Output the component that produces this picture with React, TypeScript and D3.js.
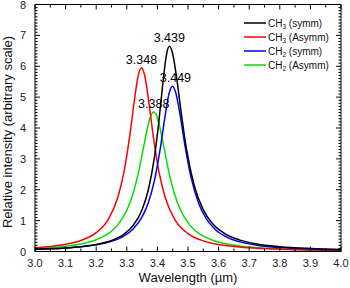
import { useEffect, useRef } from 'react';
import * as d3 from 'd3';

// Wavelength (µm) / relative intensity pairs
const ch3SymmX = [3.0, 3.05, 3.1, 3.15, 3.2, 3.25, 3.29, 3.32, 3.35, 3.37, 3.39, 3.405, 3.418, 3.429, 3.439, 3.449, 3.462, 3.477, 3.495, 3.52, 3.55, 3.58, 3.62, 3.67, 3.72, 3.8, 3.9, 4.0];
const ch3SymmY = [0.069, 0.088, 0.115, 0.157, 0.228, 0.357, 0.556, 0.832, 1.354, 1.984, 3.042, 4.233, 5.46, 6.337, 6.65, 6.444, 5.689, 4.552, 3.325, 2.151, 1.349, 0.906, 0.581, 0.369, 0.254, 0.156, 0.097, 0.066];

const ch3AsymmX = [3.0, 3.05, 3.1, 3.15, 3.2, 3.24, 3.27, 3.29, 3.31, 3.325, 3.337, 3.348, 3.359, 3.371, 3.386, 3.406, 3.426, 3.456, 3.5, 3.55, 3.6, 3.7, 3.8, 3.9, 4.0];
const ch3AsymmY = [0.12, 0.163, 0.232, 0.357, 0.61, 1.05, 1.734, 2.536, 3.771, 4.911, 5.675, 5.95, 5.675, 4.911, 3.771, 2.536, 1.734, 1.05, 0.581, 0.344, 0.225, 0.118, 0.072, 0.048, 0.035];

const ch2SymmX = [3.0, 3.05, 3.1, 3.15, 3.2, 3.25, 3.29, 3.32, 3.35, 3.37, 3.39, 3.41, 3.425, 3.438, 3.449, 3.46, 3.474, 3.49, 3.51, 3.535, 3.56, 3.59, 3.63, 3.68, 3.73, 3.8, 3.9, 4.0];
const ch2SymmY = [0.068, 0.086, 0.112, 0.151, 0.215, 0.33, 0.499, 0.723, 1.122, 1.574, 2.287, 3.375, 4.378, 5.112, 5.35, 5.144, 4.434, 3.44, 2.399, 1.553, 1.055, 0.707, 0.452, 0.287, 0.197, 0.128, 0.078, 0.053];

const ch2AsymmX = [3.0, 3.05, 3.1, 3.15, 3.2, 3.24, 3.27, 3.3, 3.32, 3.34, 3.355, 3.368, 3.378, 3.388, 3.398, 3.408, 3.421, 3.436, 3.456, 3.476, 3.506, 3.536, 3.576, 3.626, 3.676, 3.75, 3.85, 4.0];
const ch2AsymmY = [0.096, 0.125, 0.17, 0.245, 0.38, 0.584, 0.855, 1.336, 1.865, 2.645, 3.386, 4.025, 4.385, 4.52, 4.385, 4.025, 3.386, 2.645, 1.865, 1.336, 0.855, 0.584, 0.38, 0.245, 0.17, 0.109, 0.068, 0.039];

const seriesNames = ['CH|3| (symm)', 'CH|3| (Asymm)', 'CH|2| (symm)', 'CH|2| (Asymm)'];
const seriesColors = ['#000000', '#ff0000', '#0000ff', '#00e000'];

const peakLabels = ['3.439', '3.348', '3.449', '3.388'];
const peakX = [3.439, 3.348, 3.449, 3.388];
const peakY = [6.65, 5.95, 5.35, 4.52];

const xTicks = [3.0, 3.1, 3.2, 3.3, 3.4, 3.5, 3.6, 3.7, 3.8, 3.9, 4.0];
const yTicks = [0, 1, 2, 3, 4, 5, 6, 7, 8];

const W = 350;
const H = 288;
const M = { left: 35, right: 9, top: 4.5, bottom: 36.5 };
const FONT = 'Liberation Sans, Arial, sans-serif';

export default function App() {
  const ref = useRef<SVGSVGElement>(null);

  useEffect(() => {
    if (!ref.current) return;
    const svg = d3.select(ref.current);
    svg.selectAll('*').remove();

    const x = d3.scaleLinear().domain([3.0, 4.0]).range([M.left, W - M.right]);
    const y = d3.scaleLinear().domain([0, 8]).range([H - M.bottom, M.top]);

    const seriesX = [ch3SymmX, ch3AsymmX, ch2SymmX, ch2AsymmX];
    const seriesY = [ch3SymmY, ch3AsymmY, ch2SymmY, ch2AsymmY];

    // clip
    svg.append('defs').append('clipPath').attr('id', 'plot-clip')
      .append('rect')
      .attr('x', M.left).attr('y', M.top)
      .attr('width', W - M.left - M.right).attr('height', H - M.top - M.bottom);

    const line = d3.line<[number, number]>()
      .x(d => x(d[0]))
      .y(d => y(d[1]))
      .curve(d3.curveMonotoneX);

    // draw order: green, blue, red, black on top? follow reference look
    const order = [3, 1, 2, 0];
    order.forEach(i => {
      const pts = seriesX[i].map((v, j) => [v, seriesY[i][j]] as [number, number]);
      svg.append('path')
        .attr('d', line(pts) as string)
        .attr('fill', 'none')
        .attr('stroke', seriesColors[i])
        .attr('stroke-width', 1.5)
        .attr('clip-path', 'url(#plot-clip)');
    });

    // frame
    svg.append('rect')
      .attr('x', M.left).attr('y', M.top)
      .attr('width', W - M.left - M.right).attr('height', H - M.top - M.bottom)
      .attr('fill', 'none').attr('stroke', '#000').attr('stroke-width', 1);

    const tickG = svg.append('g').attr('stroke', '#000').attr('stroke-width', 1);
    const x0 = M.left;
    const x1 = W - M.right;
    const y0 = H - M.bottom;
    const y1 = M.top;

    // x ticks (every 0.05, major at 0.1) bottom & top, inward
    d3.range(0, 21).forEach(k => {
      const v = 3.0 + k * 0.05;
      const px = x(v);
      const len = k % 2 === 0 ? 5 : 3;
      tickG.append('line').attr('x1', px).attr('x2', px).attr('y1', y0).attr('y2', y0 - len);
      tickG.append('line').attr('x1', px).attr('x2', px).attr('y1', y1).attr('y2', y1 + len);
    });

    // y ticks (every 0.1, major at integers) left & right, inward
    d3.range(0, 81).forEach(k => {
      const py = y(k / 10);
      const len = k % 10 === 0 ? 5 : 2.5;
      tickG.append('line').attr('x1', x0).attr('x2', x0 + len).attr('y1', py).attr('y2', py);
      tickG.append('line').attr('x1', x1).attr('x2', x1 - len).attr('y1', py).attr('y2', py);
    });

    // tick labels
    xTicks.forEach(v => {
      svg.append('text')
        .attr('x', x(v)).attr('y', y0 + 15)
        .attr('text-anchor', 'middle')
        .attr('font-family', FONT).attr('font-size', 11).attr('fill', '#222')
        .text(v.toFixed(1));
    });
    yTicks.forEach(v => {
      svg.append('text')
        .attr('x', x0 - 9).attr('y', y(v) + 4)
        .attr('text-anchor', 'end')
        .attr('font-family', FONT).attr('font-size', 11).attr('fill', '#222')
        .text(String(v));
    });

    // axis titles
    svg.append('text')
      .attr('x', (x0 + x1) / 2).attr('y', H - 6)
      .attr('text-anchor', 'middle')
      .attr('font-family', FONT).attr('font-size', 13).attr('fill', '#111')
      .text('Wavelength (µm)');
    svg.append('text')
      .attr('transform', `translate(12,${(y0 + y1) / 2 + 4}) rotate(-90)`)
      .attr('text-anchor', 'middle')
      .attr('font-family', FONT).attr('font-size', 13).attr('fill', '#111')
      .text('Relative intensity (arbitrary scale)');

    // peak labels
    const labelDy = [-4, -4, -4, -4];
    peakLabels.forEach((t, i) => {
      const shift = i === 2 ? 3 : 0;
      svg.append('text')
        .attr('x', x(peakX[i]) + shift)
        .attr('y', y(peakY[i]) + labelDy[i])
        .attr('text-anchor', 'middle')
        .attr('font-family', FONT).attr('font-size', 12.5).attr('fill', '#000')
        .text(t);
    });

    // legend
    const lg = svg.append('g').attr('transform', 'translate(244,23)');
    seriesNames.forEach((name, i) => {
      const row = lg.append('g').attr('transform', `translate(0,${i * 14})`);
      row.append('line')
        .attr('x1', 0).attr('x2', 22).attr('y1', 0).attr('y2', 0)
        .attr('stroke', seriesColors[i]).attr('stroke-width', 1.5);
      const parts = name.split('|');
      const txt = row.append('text')
        .attr('x', 24).attr('y', 3.5)
        .attr('font-family', FONT).attr('font-size', 10).attr('fill', '#111');
      txt.append('tspan').text(parts[0]);
      txt.append('tspan').attr('font-size', 6.5).attr('dy', 2.5).text(parts[1]);
      txt.append('tspan').attr('dy', -2.5).text(parts[2]);
    });
  }, []);

  return (
    <svg
      ref={ref}
      width={W}
      height={H}
      style={{ position: 'absolute', left: 0, top: 0, background: '#fff' }}
    />
  );
}
